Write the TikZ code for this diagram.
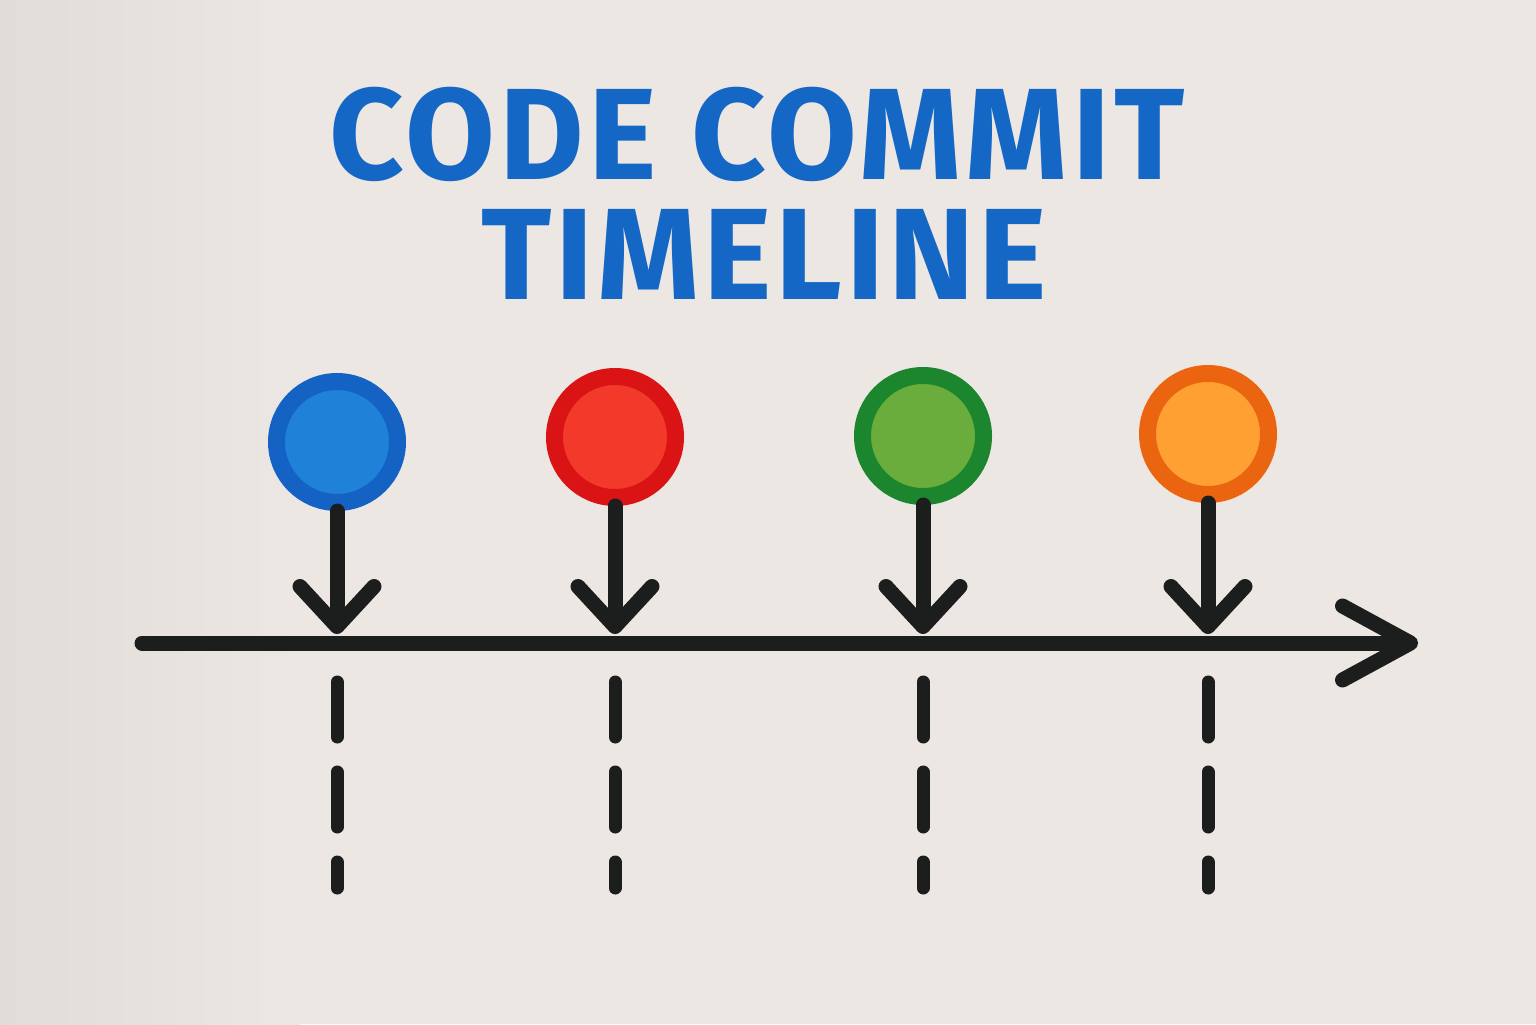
\documentclass[tikz,border=0pt]{standalone}
\usepackage{fontspec}
\setmainfont{Fira Sans}
\usetikzlibrary{arrows.meta,positioning}
\definecolor{PaperBg}{HTML}{EDE7E3}
\definecolor{PaperShade}{HTML}{E2DCD8}
\definecolor{InkBlack}{HTML}{1C1D1D}
\definecolor{TitleBlue}{HTML}{1467C4}
\definecolor{BlueRing}{HTML}{1462C4}
\definecolor{BlueFill}{HTML}{1F82D8}
\definecolor{RedRing}{HTML}{DA1414}
\definecolor{RedFill}{HTML}{F33A2A}
\definecolor{GreenRing}{HTML}{1C862E}
\definecolor{GreenFill}{HTML}{6AAD3C}
\definecolor{OrangeRing}{HTML}{EB6410}
\definecolor{OrangeFill}{HTML}{FFA132}

\tikzset{
  ink/.style={draw=InkBlack, line width=0.15cm, line cap=round},
  commit/.style 2 args={circle, draw=#1, fill=#2, line width=0.17cm,
                        minimum size=1.21cm, inner sep=0pt},
  tickarrow/.style={ink, -{Straight Barb[length=0.40cm, width=0.74cm, round]}},
  gapline/.style={ink, line width=0.13cm, dash pattern=on 0.55cm off 0.35cm},
  heading/.style={text=TitleBlue, anchor=base,
                  font=\fontsize{37}{40}\selectfont\bfseries\addfontfeature{LetterSpace=3}}
}

\begin{document}
\begin{tikzpicture}
  % paper
  \fill[PaperBg] (0,0) rectangle (15.36,10.24);
  \shade[left color=PaperShade, right color=PaperBg] (0,0) rectangle (3,10.24);
  \useasboundingbox (0,0) rectangle (15.36,10.24);

  % title
  \node[heading] (title1) at (7.57,8.44) {CODE COMMIT};
  \node[heading] (title2) at (7.64,7.24) {TIMELINE};

  % time axis
  \coordinate (axisstart) at (1.42,3.81);
  \coordinate (axisend) at (14.18,3.81);
  \draw[ink, -{Straight Barb[length=0.68cm, width=0.74cm, round]}] (axisstart) -- (axisend);

  % commits
  \foreach \name/\x/\y/\ring/\inner in {c1/3.37/5.82/BlueRing/BlueFill,
                                        c2/6.15/5.87/RedRing/RedFill,
                                        c3/9.23/5.88/GreenRing/GreenFill,
                                        c4/12.08/5.90/OrangeRing/OrangeFill}{
    \coordinate (\name hit) at (\x,3.90);
    \coordinate (\name top) at (\x,3.42);
    \coordinate (\name end) at (\x,1.36);
    \node[commit={\ring}{\inner}] (\name) at (\x,\y) {};
    \draw[tickarrow] (\name.south) -- (\name hit);
    \draw[gapline] (\name top) -- (\name end);
  }
\end{tikzpicture}
\end{document}
